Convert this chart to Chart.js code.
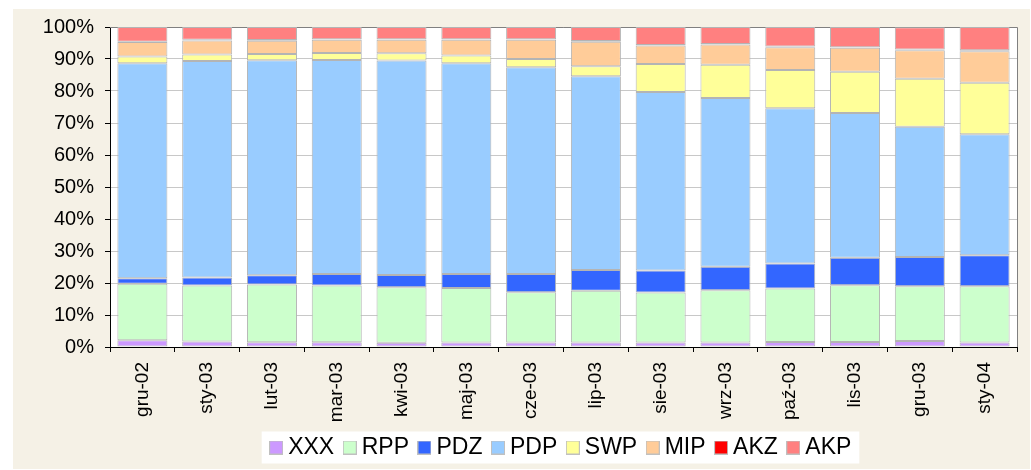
<!DOCTYPE html>
<html>
<head>
<meta charset="utf-8">
<script src="https://cdn.jsdelivr.net/npm/chart.js@4/dist/chart.umd.min.js"></script>
<style>
  html, body { margin: 0; padding: 0; background: #ffffff; }
  #wrap { width: 1031px; height: 470px; }
</style>
</head>
<body>
<div id="wrap"><canvas id="chart"></canvas></div>
<script>
// Dane
const months = ['gru-02', 'sty-03', 'lut-03', 'mar-03', 'kwi-03', 'maj-03', 'cze-03',
                'lip-03', 'sie-03', 'wrz-03', 'paź-03', 'lis-03', 'gru-03', 'sty-04'];

const xxx = [2.1, 1.7, 1.5, 1.5, 1.3, 1.4, 1.4, 1.4, 1.4, 1.4, 1.6, 1.6, 1.9, 1.4];
const rpp = [17.7, 17.5, 18.0, 17.7, 17.4, 17.0, 15.7, 16.2, 15.6, 16.3, 16.7, 17.7, 17.1, 17.6];
const pdz = [1.7, 2.5, 2.9, 3.6, 3.8, 4.4, 5.7, 6.5, 6.9, 7.4, 7.8, 8.6, 9.1, 9.7];
const pdp = [67.2, 67.7, 67.2, 66.9, 67.0, 65.9, 64.6, 60.5, 55.8, 52.7, 48.5, 45.2, 40.7, 37.8];
const swp = [2.1, 2.0, 2.0, 2.2, 2.3, 2.4, 2.6, 3.1, 8.7, 10.4, 12.0, 12.9, 15.0, 16.1];
const mip = [4.5, 4.4, 4.1, 4.1, 4.2, 4.9, 6.0, 7.7, 5.8, 6.3, 7.1, 7.5, 8.9, 9.8];
const akz = [0.1, 0.2, 0.2, 0.2, 0.2, 0.2, 0.2, 0.2, 0.2, 0.2, 0.2, 0.2, 0.3, 0.3];
const akp = [4.6, 4.0, 4.1, 3.8, 3.8, 3.8, 3.8, 4.4, 5.6, 5.3, 6.1, 6.3, 6.9, 7.3];

const yTicks = [0, 10, 20, 30, 40, 50, 60, 70, 80, 90, 100];

const font = "'Liberation Sans', Arial, sans-serif";

function serie(label, data, color) {
    return {
        label: label,
        data: data,
        backgroundColor: color,
        borderColor: '#b4b4b4',
        borderWidth: 1,
        borderSkipped: false,
        categoryPercentage: 1.0,
        barPercentage: 0.772
    };
}

// Kwadracik legendy jako mały canvas (tekst bliżej znacznika, jak w Excelu)
function kwadrat(color) {
    const c = document.createElement('canvas');
    c.width = 14;
    c.height = 14;
    const g = c.getContext('2d');
    g.fillStyle = color;
    g.fillRect(0, 0, 14, 14);
    g.strokeStyle = '#c0c0c0';
    g.lineWidth = 1;
    g.strokeRect(0.5, 0.5, 13, 13);
    return c;
}

// Tło, biała ramka legendy i obramowanie wykresu
const tloPlugin = {
    id: 'tlo',
    beforeDraw(chart) {
        const ctx = chart.ctx;
        const a = chart.chartArea;
        ctx.save();
        ctx.fillStyle = '#ffffff';
        ctx.fillRect(0, 0, chart.width, chart.height);
        ctx.fillStyle = '#f5f1e6';
        ctx.fillRect(13, 9, chart.width - 14, chart.height - 10);
        ctx.fillStyle = '#ffffff';
        ctx.fillRect(a.left, a.top, a.right - a.left, a.bottom - a.top);

        const boxes = chart.legend.legendHitBoxes;
        if (boxes && boxes.length) {
            const first = boxes[0];
            const last = boxes[boxes.length - 1];
            const x0 = first.left - 14;
            const x1 = last.left + last.width + 8;
            const yc = first.top + first.height / 2;
            ctx.fillRect(x0, yc - 16, x1 - x0, 32);
        }
        ctx.restore();
    },
    beforeDatasetsDraw(chart) {
        const ctx = chart.ctx;
        const a = chart.chartArea;
        ctx.save();
        ctx.strokeStyle = '#808080';
        ctx.lineWidth = 1;
        ctx.beginPath();
        ctx.moveTo(a.left, a.top + 0.5);
        ctx.lineTo(a.right + 0.5, a.top + 0.5);
        ctx.lineTo(a.right + 0.5, a.bottom);
        ctx.stroke();
        ctx.restore();
    }
};

const ctx = document.getElementById('chart').getContext('2d');
new Chart(ctx, {
    type: 'bar',
    data: {
        labels: months,
        datasets: [
            serie('XXX', xxx, '#cc99ff'),
            serie('RPP', rpp, '#ccffcc'),
            serie('PDZ', pdz, '#3366ff'),
            serie('PDP', pdp, '#99ccff'),
            serie('SWP', swp, '#ffff99'),
            serie('MIP', mip, '#ffcc99'),
            serie('AKZ', akz, '#ff0000'),
            serie('AKP', akp, '#ff8080')
        ]
    },
    options: {
        responsive: true,
        maintainAspectRatio: false,
        animation: false,
        layout: { padding: { top: 27, right: 14, bottom: 1, left: 0 } },
        plugins: {
            tooltip: { enabled: false },
            legend: {
                position: 'bottom',
                fullSize: false,
                labels: {
                    color: '#000000',
                    font: { family: font, size: 23 },
                    usePointStyle: true,
                    pointStyleWidth: 1,
                    boxHeight: 14,
                    padding: 15,
                    generateLabels(chart) {
                        const items = Chart.defaults.plugins.legend.labels.generateLabels(chart);
                        items.forEach(it => {
                            it.pointStyle = kwadrat(chart.data.datasets[it.datasetIndex].backgroundColor);
                        });
                        return items;
                    }
                }
            }
        },
        scales: {
            x: {
                stacked: true,
                afterFit(scale) { scale.height = 74; },
                grid: {
                    offset: true,
                    drawOnChartArea: false,
                    drawTicks: true,
                    tickLength: 5,
                    tickColor: '#000000'
                },
                border: { color: '#000000', width: 1 },
                ticks: {
                    color: '#000000',
                    font: { family: font, size: 19 },
                    minRotation: 90,
                    maxRotation: 90,
                    autoSkip: false,
                    padding: 10
                }
            },
            y: {
                stacked: true,
                min: 0,
                max: 100,
                afterFit(scale) { scale.width = 110; },
                afterBuildTicks(scale) {
                    scale.ticks = yTicks.map(v => ({ value: v }));
                },
                grid: {
                    color: '#c8c8c8',
                    tickLength: 5,
                    tickColor: '#000000'
                },
                border: { color: '#000000', width: 1 },
                ticks: {
                    color: '#000000',
                    font: { family: font, size: 20 },
                    padding: 11,
                    callback: v => v + '%'
                }
            }
        }
    },
    plugins: [tloPlugin]
});
</script>
</body>
</html>
